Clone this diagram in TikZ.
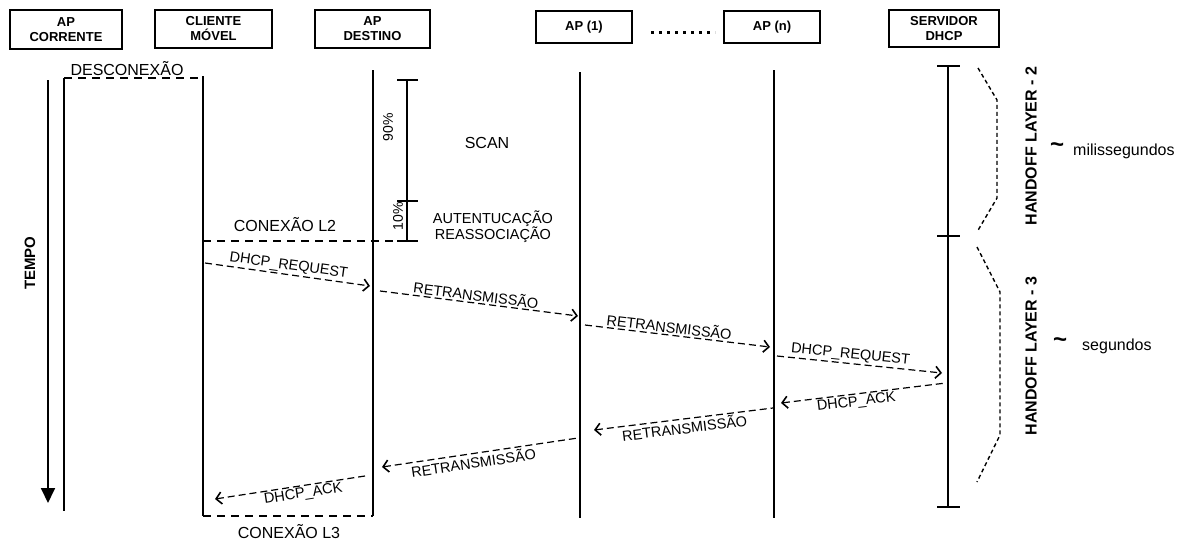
\documentclass[tikz,border=0pt]{standalone}
\usepackage{fontspec}
\setmainfont{Liberation Sans}
\usetikzlibrary{arrows.meta}
\begin{document}
\begin{tikzpicture}[x=1pt,y=-1pt,
  hdr/.style={draw, line width=1.8pt, align=center, inner sep=0pt,
    font=\fontsize{13}{15}\selectfont\bfseries},
  life/.style={line width=1.8pt},
  tick/.style={line width=1.8pt},
  conn/.style={line width=1.9pt, dash pattern=on 8pt off 6pt},
  brace/.style={line width=1.4pt, dash pattern=on 4pt off 3pt},
  msg/.style={line width=1.2pt, dash pattern=on 7pt off 4pt,
    -{Straight Barb[length=5.5pt,width=12pt,line width=1.6pt]}},
  msgl/.style={line width=1.2pt, dash pattern=on 7pt off 4pt,
    {Straight Barb[length=5.5pt,width=12pt,line width=1.6pt]}-},
  lbl/.style={font=\fontsize{14.5}{16}\selectfont, inner sep=1.5pt, sloped},
  big/.style={font=\fontsize{16}{18}\selectfont, inner sep=0pt},
  mid/.style={font=\fontsize{14.5}{16}\selectfont, inner sep=0pt, align=center},
  bold/.style={font=\fontsize{16}{18}\selectfont\bfseries, inner sep=0pt},
  tilde/.style={font=\fontsize{24}{24}\selectfont\bfseries, inner sep=0pt},
]
\useasboundingbox (0,0) rectangle (1191,541);

% header boxes
\node[hdr, minimum width=112pt, minimum height=39pt] (hcor) at (66,29.5) {AP\\CORRENTE};
\node[hdr, minimum width=117pt, minimum height=38pt] (hcli) at (213.5,29) {CLIENTE\\MÓVEL};
\node[hdr, minimum width=115pt, minimum height=38pt] (hdes) at (372.5,29) {AP\\DESTINO};
\node[hdr, minimum width=96pt, minimum height=32pt] (hap1) at (584,27) {AP (1)};
\node[hdr, minimum width=96pt, minimum height=32pt] (hapn) at (772,27) {AP (n)};
\node[hdr, minimum width=110pt, minimum height=37pt] (hsrv) at (944,28.5) {SERVIDOR\\DHCP};
\coordinate (dotsA) at (651,32);
\coordinate (dotsB) at (715,32);
\draw[line width=3pt, dash pattern=on 3pt off 5pt] (dotsA) -- (dotsB);

% lifelines
\coordinate (corT) at (64,78);   \coordinate (corB) at (64,511);
\coordinate (cliT) at (203,76);  \coordinate (cliB) at (203,516);
\coordinate (desT) at (373,70);  \coordinate (desB) at (373,516);
\coordinate (ap1T) at (580,72);  \coordinate (ap1B) at (580,518);
\coordinate (apnT) at (774,70);  \coordinate (apnB) at (774,518);
\coordinate (srvT) at (948,66);  \coordinate (srvM) at (948,236); \coordinate (srvB) at (948,507);
\draw[life] (corT) -- (corB);
\draw[life] (cliT) -- (cliB);
\draw[life] (desT) -- (desB);
\draw[life] (ap1T) -- (ap1B);
\draw[life] (apnT) -- (apnB);
\draw[life] (srvT) -- (srvB);
\foreach \p in {srvT,srvM,srvB} \draw[tick] ([xshift=-11pt]\p) -- ([xshift=12pt]\p);

% time arrow
\coordinate (tT) at (48,80); \coordinate (tB) at (48,503);
\draw[line width=1.8pt, -{Triangle[length=15pt,width=14pt]}] (tT) -- (tB);
\node[bold, rotate=90, font=\fontsize{15}{17}\selectfont\bfseries] (tempo) at (30,263) {TEMPO};

% disconnection / connection dashed lines
\coordinate (disA) at (64,78); \coordinate (disB) at (203,78);
\draw[conn] (disA) -- (disB);
\node[big] (desc) at (127,69) {DESCONEXÃO};

% scan bracket
\coordinate (brT) at (407,80); \coordinate (brM) at (407,201); \coordinate (brB) at (407,241);
\draw[tick] (brT) -- (brB);
\foreach \p in {brT,brM,brB} \draw[tick] ([xshift=-10pt]\p) -- ([xshift=11pt]\p);
\node[font=\fontsize{14}{16}\selectfont, rotate=90, inner sep=0pt] (p90) at (388,127) {90\%};
\node[font=\fontsize{14}{16}\selectfont, rotate=90, inner sep=0pt] (p10) at (398,216) {10\%};
\node[big] (scan) at (487,143) {SCAN};
\node[mid] (auth) at (493,227) {AUTENTUCAÇÃO\\REASSOCIAÇÃO};

\coordinate (l2A) at (203,241); \coordinate (l2B) at (398,241);
\draw[conn] (l2A) -- (l2B);
\node[big] (conl2) at (285,225) {CONEXÃO L2};

\coordinate (l3A) at (203,516); \coordinate (l3B) at (373,516);
\draw[conn] (l3A) -- (l3B);
\node[big] (conl3) at (289,532) {CONEXÃO L3};

% messages
\coordinate (m1a) at (205,263); \coordinate (m1b) at (370,286);
\coordinate (m2a) at (380,291); \coordinate (m2b) at (578,316);
\coordinate (m3a) at (585,325); \coordinate (m3b) at (770,347);
\coordinate (m4a) at (777,356); \coordinate (m4b) at (942,373);
\coordinate (m5a) at (946,383); \coordinate (m5b) at (781,403);
\coordinate (m6a) at (773,408); \coordinate (m6b) at (594,430);
\coordinate (m7a) at (578,438); \coordinate (m7b) at (382,467);
\coordinate (m8a) at (365,476); \coordinate (m8b) at (215,499);

\draw[msg] (m1a) -- node[lbl, above, pos=0.5] {DHCP\_REQUEST} (m1b);
\draw[msg] (m2a) -- node[lbl, above, pos=0.48] {RETRANSMISSÃO} (m2b);
\draw[msg] (m3a) -- node[lbl, above, pos=0.45] {RETRANSMISSÃO} (m3b);
\draw[msg] (m4a) -- node[lbl, above, pos=0.44] {DHCP\_REQUEST} (m4b);
\draw[msgl] (m5b) -- node[lbl, below, pos=0.45] {DHCP\_ACK} (m5a);
\draw[msgl] (m6b) -- node[lbl, below, pos=0.5] {RETRANSMISSÃO} (m6a);
\draw[msgl] (m7b) -- node[lbl, below, pos=0.46] {RETRANSMISSÃO} (m7a);
\draw[msgl] (m8b) -- node[lbl, below, pos=0.58] {DHCP\_ACK} (m8a);

% handoff braces
\coordinate (b1a) at (978,68); \coordinate (b1b) at (997,100);
\coordinate (b1c) at (997,198); \coordinate (b1d) at (977,232);
\draw[brace] (b1a) -- (b1b) -- (b1c) -- (b1d);
\coordinate (b2a) at (977,247); \coordinate (b2b) at (1000,292);
\coordinate (b2c) at (1000,435); \coordinate (b2d) at (977,482);
\draw[brace] (b2a) -- (b2b) -- (b2c) -- (b2d);

\node[bold, rotate=90] (hl2) at (1031,146) {HANDOFF LAYER - 2};
\node[bold, rotate=90] (hl3) at (1031,356) {HANDOFF LAYER - 3};
\node[tilde] (t1) at (1057,148) {\textasciitilde};
\node[big, anchor=west] (ms) at (1073,151) {milissegundos};
\node[tilde] (t2) at (1060,343) {\textasciitilde};
\node[big, anchor=west] (sg) at (1082,346) {segundos};
\end{tikzpicture}
\end{document}
